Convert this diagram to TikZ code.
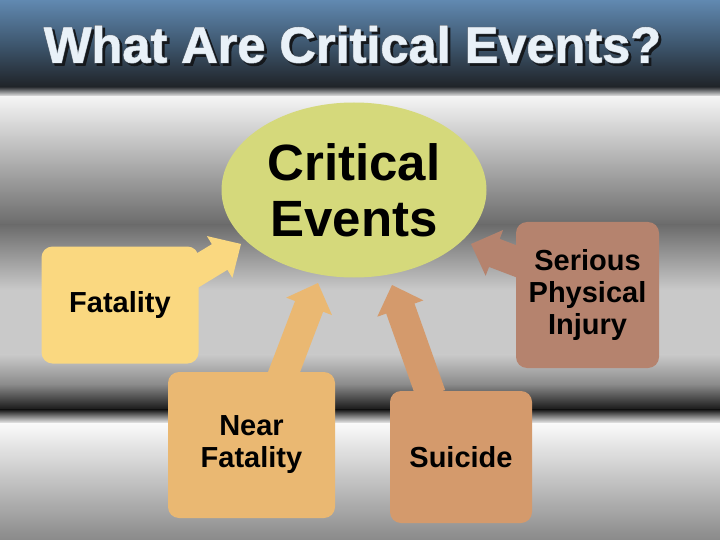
\documentclass[tikz,border=0pt]{standalone}
\usepackage{fontspec}
\setmainfont{Liberation Sans}
\usetikzlibrary{shapes.geometric,calc}
\definecolor{ttop}{HTML}{6189B1}
\definecolor{tmid}{HTML}{3E576F}
\definecolor{tbot}{HTML}{1F2226}
\definecolor{ellcol}{HTML}{D5D97B}
\definecolor{fatcol}{HTML}{FAD880}
\definecolor{nearcol}{HTML}{EAB872}
\definecolor{suicol}{HTML}{D49A6C}
\definecolor{sercol}{HTML}{B5836E}
\definecolor{titletext}{HTML}{E9F1F8}
\definecolor{titleedge}{HTML}{5E6873}
\definecolor{titleshadow}{HTML}{15181C}
\newcommand\arrw{15pt}
\newcommand\arrhw{24.5pt}
\newcommand\arrhl{25pt}
\newcommand\titletxt{What Are Critical Events?}
\newcommand\blockarrow[3]{%
  \coordinate (#1-#2-h) at ($(#2)!\arrhl!(#1)$);
  \fill[#3] ($(#1)!\arrw!90:(#2)$) -- ($(#1-#2-h)!\arrw!90:(#2)$)
    -- ($(#1-#2-h)!\arrhw!90:(#2)$) -- (#2)
    -- ($(#1-#2-h)!\arrhw!-90:(#2)$) -- ($(#1-#2-h)!\arrw!-90:(#2)$)
    -- ($(#1)!\arrw!-90:(#2)$) -- cycle;}
\tikzset{
  band/.style={shade, draw=none},
  card/.style={rectangle, rounded corners=11pt, draw=none, inner sep=0pt,
    align=center, font=\fontsize{29}{32}\selectfont\bfseries, text=black},
  titlefont/.style={font=\fontsize{50.5}{56}\selectfont\bfseries, anchor=base, inner sep=0pt}
}
\begin{document}
\begin{tikzpicture}[x=1pt,y=-1pt]
\useasboundingbox (0,0) rectangle (720,540);
% background
\shade[band, top color=ttop, bottom color=tbot, middle color=tmid] (0,0) rectangle (720,88);
\shade[band, top color=tbot!90!white, bottom color=white!97!black] (0,87.5) rectangle (720,97);
\shade[band, top color=white!96!black, bottom color=black!58] (0,96.5) rectangle (720,225);
\shade[band, top color=black!58, bottom color=black!21] (0,224.5) rectangle (720,290);
\fill[black!21] (0,289.5) rectangle (720,355);
\shade[band, top color=black!21, bottom color=black!46] (0,354.5) rectangle (720,385);
\shade[band, top color=black!46, bottom color=black!91] (0,384.5) rectangle (720,410);
\shade[band, top color=black!91, bottom color=white!98!black] (0,409.5) rectangle (720,424);
\shade[band, top color=white!98!black, bottom color=black!46] (0,423.5) rectangle (720,540);
% title (shadow, outline and face in one text)
\node[titlefont] (title) at (352.5,62.5) {%
  \rlap{\hspace{2.5pt}\raisebox{-2.5pt}{\color{titleshadow}\addfontfeature{FakeBold=3}\titletxt}}%
  \rlap{\color{titleedge}\addfontfeature{FakeBold=3}\titletxt}%
  {\color{titletext}\addfontfeature{FakeBold=1}\titletxt}};
% arrow end points
\coordinate (ftail) at (172,286);
\coordinate (ftip) at (241,244);
\coordinate (ntail) at (281,380);
\coordinate (ntip) at (318,283);
\coordinate (stail) at (431,395);
\coordinate (stip) at (392,285);
\coordinate (jtail) at (555,276);
\coordinate (jtip) at (471,244);
% arrows
\blockarrow{ftail}{ftip}{fatcol}
\blockarrow{ntail}{ntip}{nearcol}
\blockarrow{stail}{stip}{suicol}
\blockarrow{jtail}{jtip}{sercol}
% boxes
\node[card, fill=fatcol, minimum width=157pt, minimum height=117pt] (fat) at (120,305) {Fatality};
\node[card, fill=nearcol, minimum width=167pt, minimum height=146pt] (near) at (251.5,445) {Near\\Fatality};
\node[card, fill=suicol, minimum width=142pt, minimum height=132pt] (sui) at (461,457) {Suicide};
\node[card, fill=sercol, minimum width=143pt, minimum height=146pt] (ser) at (587.5,295) {Serious\\Physical\\Injury};
% central ellipse
\node[ellipse, fill=ellcol, draw=none, minimum width=265pt, minimum height=175pt, inner sep=0pt,
  align=center, font=\fontsize{51}{56}\selectfont\bfseries] (ce) at (354,190) {Critical\\Events};
\end{tikzpicture}
\end{document}
